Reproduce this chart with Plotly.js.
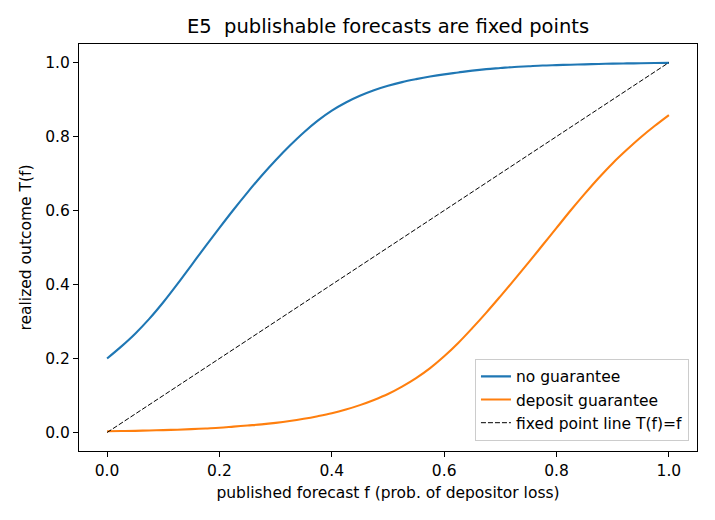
<!DOCTYPE html>
<html>
<head>
<meta charset="utf-8">
<script src="https://cdn.plot.ly/plotly-3.0.1.min.js"></script>
<style>html,body{margin:0;padding:0;background:#fff;}#chart{width:715px;height:520px;}</style>
</head>
<body>
<div id="chart"></div>
<script>
const forecastF = [0.0, 0.025, 0.05, 0.075, 0.1, 0.125, 0.15, 0.175, 0.2, 0.225, 0.25, 0.275, 0.3, 0.325, 0.35, 0.375, 0.4, 0.425, 0.45, 0.475, 0.5, 0.525, 0.55, 0.575, 0.6, 0.625, 0.65, 0.675, 0.7, 0.725, 0.75, 0.775, 0.8, 0.825, 0.85, 0.875, 0.9, 0.925, 0.95, 0.975, 1.0];
const noGuarantee = [0.200, 0.232, 0.267, 0.307, 0.352, 0.401, 0.452, 0.503, 0.553, 0.602, 0.649, 0.694, 0.736, 0.775, 0.811, 0.843, 0.870, 0.892, 0.910, 0.925, 0.937, 0.947, 0.955, 0.962, 0.968, 0.973, 0.978, 0.982, 0.985, 0.988, 0.990, 0.992, 0.993, 0.994, 0.995, 0.996, 0.997, 0.9975, 0.998, 0.9985, 0.999];
const depositGuarantee = [0.0035, 0.004, 0.0045, 0.0055, 0.0065, 0.0075, 0.009, 0.011, 0.013, 0.016, 0.019, 0.022, 0.026, 0.031, 0.037, 0.044, 0.052, 0.062, 0.074, 0.088, 0.104, 0.124, 0.147, 0.174, 0.206, 0.242, 0.282, 0.324, 0.368, 0.413, 0.459, 0.506, 0.553, 0.600, 0.645, 0.688, 0.728, 0.764, 0.798, 0.829, 0.858];
const fixedLineX = [0, 1];
const fixedLineY = [0, 1];
const tickVals = [0.0, 0.2, 0.4, 0.6, 0.8, 1.0];
const tickText = ["0.0", "0.2", "0.4", "0.6", "0.8", "1.0"];

const font = "DejaVu Sans, sans-serif";
const traces = [
  {x: forecastF, y: noGuarantee, mode: "lines", name: "no guarantee", line: {color: "#1f77b4", width: 2.1, shape: "spline", smoothing: 1}},
  {x: forecastF, y: depositGuarantee, mode: "lines", name: "deposit guarantee", line: {color: "#ff7f0e", width: 2.1, shape: "spline", smoothing: 1}},
  {x: fixedLineX, y: fixedLineY, mode: "lines", name: "fixed point line T(f)=f", line: {color: "#000000", width: 1, dash: "5px,2px"}}
];
const axisCommon = {
  showgrid: false, zeroline: false, showline: true, mirror: true, linecolor: "#000", linewidth: 1,
  ticks: "outside", ticklen: 5, tickwidth: 1, tickcolor: "#000",
  tickfont: {family: font, size: 15.5, color: "#000"},
  tickvals: tickVals, ticktext: tickText
};
const layout = {
  width: 715, height: 520,
  margin: {l: 79, r: 18, t: 44, b: 69},
  paper_bgcolor: "#fff", plot_bgcolor: "#fff",
  title: {text: "E5  publishable forecasts are fixed points", font: {family: font, size: 19.5, color: "#000"}, x: 0.5, xref: "paper", y: 1 - 26/520, yanchor: "middle"},
  xaxis: Object.assign({}, axisCommon, {range: [-0.05, 1.05], title: {text: "published forecast f (prob. of depositor loss)", font: {family: font, size: 15.5, color: "#000"}, standoff: 8}}),
  yaxis: Object.assign({}, axisCommon, {range: [-0.05, 1.05], title: {text: "realized outcome T(f)", font: {family: font, size: 15.5, color: "#000"}, standoff: 9}}),
  legend: {x: 0.987, y: 0.025, xanchor: "right", yanchor: "bottom", bgcolor: "rgba(255,255,255,0.8)", bordercolor: "#cccccc", borderwidth: 1, font: {family: font, size: 15.5, color: "#000"}, tracegroupgap: 0},
  showlegend: true
};
Plotly.newPlot("chart", traces, layout, {displayModeBar: false, staticPlot: true});
</script>
</body>
</html>
